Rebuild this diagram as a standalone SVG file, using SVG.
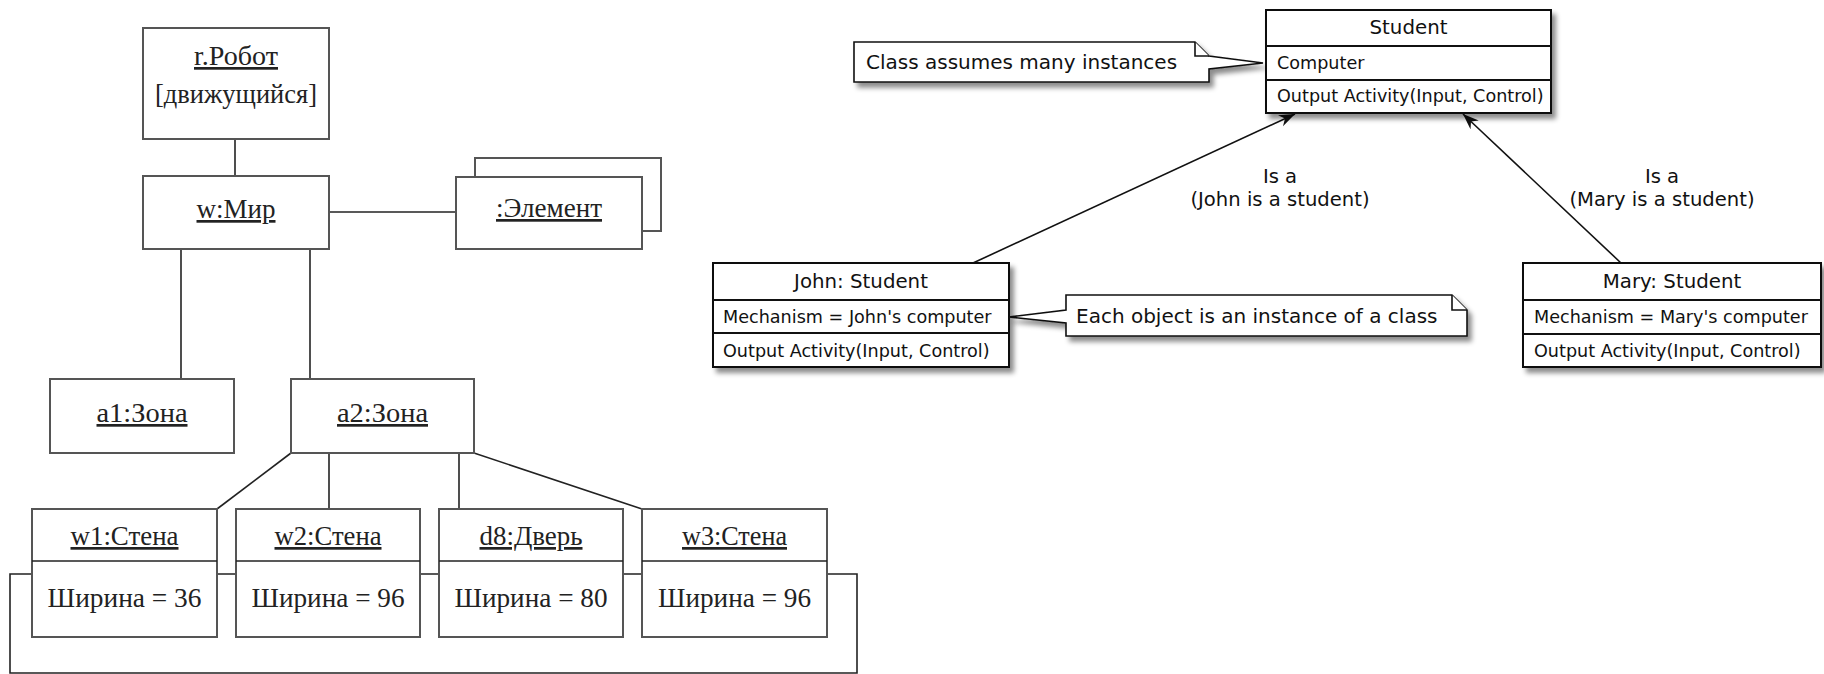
<svg xmlns="http://www.w3.org/2000/svg" width="1824" height="674" viewBox="0 0 1824 674">
<style>
  .lbox{fill:#fff;stroke:#555;stroke-width:2}
  .lline{fill:none;stroke:#222;stroke-width:1.6}
  .lt{font-family:"Liberation Serif","Times New Roman",serif;font-size:27px;fill:#222;text-anchor:middle}
  .u{text-decoration:underline}
  .cbox{fill:#fff;stroke:#111;stroke-width:2}
  .cdiv{stroke:#111;stroke-width:2}
  .ct{font-family:"DejaVu Sans",sans-serif;font-size:19.8px;fill:#111;text-anchor:middle}
  .ca{font-family:"DejaVu Sans",sans-serif;font-size:17.6px;fill:#111}
  .nt{font-family:"DejaVu Sans",sans-serif;font-size:20px;fill:#111}
  .lab{font-family:"DejaVu Sans",sans-serif;font-size:19.6px;fill:#111;text-anchor:middle}
  .note{fill:#fff;stroke:#111;stroke-width:1.6}
  .rline{fill:none;stroke:#111;stroke-width:1.6}
</style>
<defs>
  <filter id="sh" x="-10%" y="-20%" width="130%" height="160%">
    <feGaussianBlur in="SourceAlpha" stdDeviation="2.5"/>
    <feOffset dx="4" dy="5" result="b"/>
    <feFlood flood-color="#000" flood-opacity="0.45"/>
    <feComposite in2="b" operator="in"/>
    <feMerge><feMergeNode/><feMergeNode in="SourceGraphic"/></feMerge>
  </filter>
  <marker id="ah" markerUnits="userSpaceOnUse" markerWidth="18" markerHeight="14" refX="16" refY="6" orient="auto">
    <path d="M16,6 L0,0 L5,6 L0,12 Z" fill="#111"/>
  </marker>
</defs>

<!-- connectors -->
<g id="connectors">
  <path class="lline" d="M10,574 H857 V673 H10 Z"/>
  <path class="lline" d="M235,139 V176"/>
  <path class="lline" d="M329,212 H456"/>
  <path class="lline" d="M181,249 V379"/>
  <path class="lline" d="M310,249 V379"/>
  <path class="lline" d="M291,453 L217,509"/>
  <path class="lline" d="M329,453 V509"/>
  <path class="lline" d="M459,453 V509"/>
  <path class="lline" d="M474,453 L642,509"/>
  <path class="rline" d="M973,263 L1295,114" marker-end="url(#ah)"/>
  <path class="rline" d="M1621,263 L1463,114" marker-end="url(#ah)"/>
  <text class="lab" x="1280" y="183">Is a</text>
  <text class="lab" x="1280" y="206">(John is a student)</text>
  <text class="lab" x="1662" y="183">Is a</text>
  <text class="lab" x="1662" y="206">(Mary is a student)</text>
</g>

<!-- left diagram -->
<g id="robot">
  <rect class="lbox" x="143" y="28" width="186" height="111"/>
  <text class="lt u" x="236" y="65" textLength="84" lengthAdjust="spacingAndGlyphs">r.Робот</text>
  <text class="lt" x="236" y="103" textLength="162" lengthAdjust="spacingAndGlyphs">[движущийся]</text>
</g>
<g id="mir">
  <rect class="lbox" x="143" y="176" width="186" height="73"/>
  <text class="lt u" x="236" y="218" textLength="79" lengthAdjust="spacingAndGlyphs">w:Мир</text>
</g>
<g id="element">
  <rect class="lbox" x="475" y="158" width="186" height="73"/>
  <rect class="lbox" x="456" y="177" width="186" height="72"/>
  <text class="lt u" x="549" y="217" textLength="106" lengthAdjust="spacingAndGlyphs">:Элемент</text>
</g>
<g id="a1">
  <rect class="lbox" x="50" y="379" width="184" height="74"/>
  <text class="lt u" x="142" y="422" textLength="91" lengthAdjust="spacingAndGlyphs">a1:Зона</text>
</g>
<g id="a2">
  <rect class="lbox" x="291" y="379" width="183" height="74"/>
  <text class="lt u" x="382.5" y="422" textLength="91" lengthAdjust="spacingAndGlyphs">a2:Зона</text>
</g>
<g id="w1">
  <rect class="lbox" x="32" y="509" width="185" height="128"/>
  <line class="lline" x1="32" y1="561" x2="217" y2="561"/>
  <text class="lt u" x="124.5" y="545" textLength="108" lengthAdjust="spacingAndGlyphs">w1:Стена</text>
  <text class="lt" x="124.5" y="607" textLength="154" lengthAdjust="spacingAndGlyphs">Ширина = 36</text>
</g>
<g id="w2">
  <rect class="lbox" x="236" y="509" width="184" height="128"/>
  <line class="lline" x1="236" y1="561" x2="420" y2="561"/>
  <text class="lt u" x="328" y="545" textLength="107" lengthAdjust="spacingAndGlyphs">w2:Стена</text>
  <text class="lt" x="328" y="607" textLength="153" lengthAdjust="spacingAndGlyphs">Ширина = 96</text>
</g>
<g id="d8">
  <rect class="lbox" x="439" y="509" width="184" height="128"/>
  <line class="lline" x1="439" y1="561" x2="623" y2="561"/>
  <text class="lt u" x="531" y="545" textLength="103" lengthAdjust="spacingAndGlyphs">d8:Дверь</text>
  <text class="lt" x="531" y="607" textLength="153" lengthAdjust="spacingAndGlyphs">Ширина = 80</text>
</g>
<g id="w3">
  <rect class="lbox" x="642" y="509" width="185" height="128"/>
  <line class="lline" x1="642" y1="561" x2="827" y2="561"/>
  <text class="lt u" x="734.5" y="545" textLength="105" lengthAdjust="spacingAndGlyphs">w3:Стена</text>
  <text class="lt" x="734.5" y="607" textLength="153" lengthAdjust="spacingAndGlyphs">Ширина = 96</text>
</g>

<!-- right diagram -->
<g id="note1">
  <path class="note" filter="url(#sh)" d="M854,42 H1195 L1209,56 L1263,63 L1209,69 V82 H854 Z"/>
  <path class="note" d="M1195,42 V56 H1209"/>
  <text class="nt" x="866" y="69">Class assumes many instances</text>
</g>
<g id="student">
  <rect class="cbox" filter="url(#sh)" x="1266" y="10" width="285" height="103"/>
  <line class="cdiv" x1="1266" y1="46" x2="1551" y2="46"/>
  <line class="cdiv" x1="1266" y1="80" x2="1551" y2="80"/>
  <text class="ct" x="1408.5" y="34">Student</text>
  <text class="ca" x="1277" y="69">Computer</text>
  <text class="ca" x="1277" y="102">Output Activity(Input, Control)</text>
</g>
<g id="john">
  <rect class="cbox" filter="url(#sh)" x="713" y="263" width="296" height="104"/>
  <line class="cdiv" x1="713" y1="300" x2="1009" y2="300"/>
  <line class="cdiv" x1="713" y1="333" x2="1009" y2="333"/>
  <text class="ct" x="861" y="288">John: Student</text>
  <text class="ca" x="723" y="323">Mechanism = John's computer</text>
  <text class="ca" x="723" y="357">Output Activity(Input, Control)</text>
</g>
<g id="note2">
  <path class="note" filter="url(#sh)" d="M1066,295 H1452 L1467,310 V336 H1066 V323 L1009,317 L1066,310 Z"/>
  <path class="note" d="M1452,295 V310 H1467"/>
  <text class="nt" x="1076" y="323">Each object is an instance of a class</text>
</g>
<g id="mary">
  <rect class="cbox" filter="url(#sh)" x="1523" y="263" width="298" height="104"/>
  <line class="cdiv" x1="1523" y1="300" x2="1821" y2="300"/>
  <line class="cdiv" x1="1523" y1="334" x2="1821" y2="334"/>
  <text class="ct" x="1672" y="288">Mary: Student</text>
  <text class="ca" x="1534" y="323">Mechanism = Mary's computer</text>
  <text class="ca" x="1534" y="357">Output Activity(Input, Control)</text>
</g>
</svg>
